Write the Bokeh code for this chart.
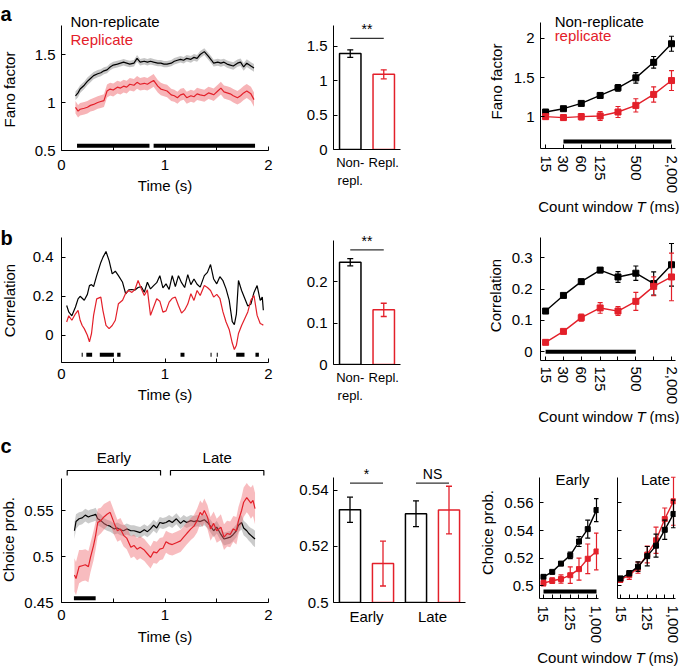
import math
from bokeh.plotting import figure
from bokeh.layouts import row, column
from bokeh.models import FixedTicker
from bokeh.core.properties import value
from bokeh.embed import file_html
from bokeh.resources import INLINE

FONT = "Liberation Sans"
BLACK = "#000000"
RED = "#e3202a"
GREY_BAND = "#a8a8a8"
PINK_BAND = "#f06a70"

# ---------------- data: panel a ----------------
fano_t = [0.135, 0.16, 0.18, 0.22, 0.25, 0.28, 0.31, 0.35, 0.38, 0.41, 0.44, 0.47, 0.50, 0.54, 0.57,
          0.60, 0.63, 0.66, 0.70, 0.73, 0.76, 0.80, 0.83, 0.86, 0.89, 0.93, 0.96, 0.99, 1.02, 1.06,
          1.09, 1.12, 1.15, 1.18, 1.21, 1.25, 1.28, 1.31, 1.34, 1.38, 1.42, 1.45, 1.47, 1.51, 1.54,
          1.57, 1.60, 1.63, 1.66, 1.70, 1.73, 1.76, 1.79, 1.83, 1.86]
fano_nonrep = [1.07, 1.10, 1.14, 1.18, 1.22, 1.25, 1.28, 1.30, 1.31, 1.33, 1.34, 1.37, 1.39, 1.40, 1.41,
               1.42, 1.41, 1.40, 1.41, 1.46, 1.42, 1.43, 1.42, 1.43, 1.42, 1.41, 1.41, 1.40, 1.40, 1.41,
               1.43, 1.44, 1.45, 1.44, 1.46, 1.45, 1.47, 1.46, 1.50, 1.53, 1.48, 1.44, 1.41, 1.42, 1.41,
               1.42, 1.40, 1.39, 1.38, 1.41, 1.42, 1.37, 1.41, 1.38, 1.36]
fano_nonrep_sem = [0.045, 0.045, 0.04, 0.04, 0.04, 0.04, 0.038, 0.038, 0.036, 0.036,
                   0.035, 0.035, 0.035, 0.035, 0.034, 0.034, 0.034, 0.034, 0.034, 0.035,
                   0.034, 0.034, 0.034, 0.033, 0.033, 0.033, 0.033, 0.033, 0.033, 0.033,
                   0.034, 0.034, 0.034, 0.034, 0.034, 0.035, 0.035, 0.035, 0.036, 0.036,
                   0.036, 0.036, 0.036, 0.036, 0.037, 0.037, 0.037, 0.038, 0.038, 0.038,
                   0.039, 0.039, 0.04, 0.04, 0.04]
fano_rep = [0.95, 0.91, 0.93, 0.94, 0.95, 0.97, 0.98, 1.00, 1.01, 1.02, 1.12, 1.14, 1.13, 1.16, 1.15,
            1.17, 1.16, 1.19, 1.18, 1.21, 1.19, 1.20, 1.19, 1.21, 1.23, 1.17, 1.14, 1.13, 1.12, 1.08,
            1.07, 1.05, 1.08, 1.09, 1.05, 1.07, 1.06, 1.09, 1.08, 1.07, 1.10, 1.09, 1.08, 1.12, 1.15,
            1.11, 1.10, 1.09, 1.07, 1.05, 1.07, 1.10, 1.12, 1.09, 1.03]
fano_rep_sem = [0.065, 0.065, 0.065, 0.065, 0.065, 0.065, 0.066, 0.066, 0.066, 0.067,
                0.067, 0.067, 0.067, 0.067, 0.066, 0.066, 0.066, 0.066, 0.066, 0.066,
                0.066, 0.066, 0.066, 0.066, 0.066, 0.065, 0.065, 0.064, 0.064, 0.064,
                0.063, 0.063, 0.062, 0.062, 0.062, 0.062, 0.063, 0.063, 0.063, 0.063,
                0.064, 0.064, 0.065, 0.066, 0.067, 0.068, 0.069, 0.07, 0.07, 0.071,
                0.072, 0.073, 0.074, 0.075, 0.075]
fano_sig_start = [0.15, 0.89]
fano_sig_end = [0.85, 1.87]

bar_x = [1, 2]
bar_labels = ["Non-\nrepl.", "Repl."]
fano_bar = [1.39, 1.09]
fano_bar_err = [0.055, 0.065]

window_ms = [15, 30, 60, 125, 250, 500, 1000, 2000]
window_ticks = [15, 30, 60, 125, 500, 2000]
window_labels = ["15", "30", "60", "125", "500", "2,000"]
fano_T_nonrep = [1.063, 1.105, 1.172, 1.273, 1.37, 1.496, 1.693, 1.929]
fano_T_nonrep_err = [0.017, 0.017, 0.025, 0.03, 0.042, 0.067, 0.074, 0.095]
fano_T_rep = [1.004, 0.992, 1.004, 1.013, 1.063, 1.147, 1.286, 1.462]
fano_T_rep_err = [0.03, 0.035, 0.04, 0.055, 0.07, 0.084, 0.097, 0.126]
fano_T_sig = [30, 2000]

# ---------------- data: panel b ----------------
corr_t = [0.05, 0.07, 0.10, 0.135, 0.16, 0.18, 0.20, 0.22, 0.25, 0.27, 0.29, 0.31, 0.34, 0.38, 0.40,
          0.43, 0.46, 0.49, 0.52, 0.55, 0.59, 0.62, 0.65, 0.68, 0.71, 0.74, 0.77, 0.80, 0.83, 0.86,
          0.89, 0.92, 0.95, 0.98, 1.01, 1.04, 1.07, 1.10, 1.13, 1.16, 1.19, 1.22, 1.25, 1.28, 1.31,
          1.34, 1.38, 1.41, 1.44, 1.47, 1.50, 1.53, 1.56, 1.59, 1.62, 1.65, 1.67, 1.69, 1.71, 1.74,
          1.77, 1.80, 1.83, 1.86, 1.89, 1.92, 1.94, 1.95]
corr_nonrep = [0.153, 0.12, 0.10, 0.145, 0.187, 0.20, 0.19, 0.18, 0.21, 0.255, 0.26, 0.25, 0.306, 0.374, 0.40,
               0.43, 0.383, 0.315, 0.329, 0.306, 0.272, 0.213, 0.233, 0.235, 0.232, 0.245, 0.25, 0.221, 0.272, 0.238,
               0.255, 0.27, 0.306, 0.243, 0.264, 0.235, 0.306, 0.25, 0.306, 0.27, 0.245, 0.311, 0.26, 0.289, 0.262,
               0.247, 0.306, 0.323, 0.363, 0.289, 0.264, 0.301, 0.28, 0.238, 0.18, 0.07, 0.055, 0.11, 0.281, 0.23,
               0.19, 0.15, 0.16, 0.22, 0.255, 0.179, 0.196, 0.128]
corr_rep = [0.068, 0.10, 0.077, 0.11, 0.128, 0.077, 0.05, 0.034, 0.0, -0.034, 0.009, 0.102, 0.187, 0.196, 0.128,
            0.051, 0.034, 0.05, 0.077, 0.162, 0.18, 0.216, 0.23, 0.22, 0.235, 0.281, 0.24, 0.204, 0.233, 0.102,
            0.145, 0.187, 0.175, 0.119, 0.125, 0.17, 0.19, 0.196, 0.153, 0.114, 0.13, 0.16, 0.213, 0.179, 0.23,
            0.204, 0.255, 0.245, 0.23, 0.196, 0.21, 0.19, 0.12, 0.068, 0.03, -0.04, -0.073, -0.051, 0.009, 0.05,
            0.085, 0.12, 0.18, 0.204, 0.102, 0.06, 0.055, 0.051]
corr_sig_start = [0.195, 0.24, 0.37, 0.538, 1.15, 1.44, 1.50, 1.688, 1.874]
corr_sig_end = [0.205, 0.296, 0.506, 0.57, 1.188, 1.45, 1.51, 1.768, 1.907]

corr_bar = [0.2466, 0.1317]
corr_bar_err = [0.0088, 0.016]

corr_T_nonrep = [0.13, 0.18, 0.224, 0.261, 0.239, 0.251, 0.218, 0.278]
corr_T_nonrep_err = [0.004, 0.006, 0.007, 0.008, 0.017, 0.023, 0.037, 0.068]
corr_T_rep = [0.030, 0.065, 0.109, 0.14, 0.13, 0.161, 0.209, 0.239]
corr_T_rep_err = [0.004, 0.006, 0.011, 0.017, 0.014, 0.029, 0.03, 0.076]
corr_T_sig = [15, 500]

# ---------------- data: panel c ----------------
cp_t = [0.125, 0.14, 0.17, 0.20, 0.23, 0.26, 0.28, 0.31, 0.33, 0.35, 0.38, 0.41, 0.44, 0.47, 0.51,
        0.54, 0.57, 0.60, 0.63, 0.67, 0.70, 0.73, 0.76, 0.80, 0.83, 0.86, 0.89, 0.92, 0.95, 0.98,
        1.01, 1.04, 1.07, 1.11, 1.15, 1.18, 1.21, 1.25, 1.28, 1.31, 1.34, 1.36, 1.38, 1.41, 1.44,
        1.47, 1.50, 1.54, 1.57, 1.60, 1.63, 1.66, 1.69, 1.71, 1.74, 1.76, 1.79, 1.81, 1.83, 1.85, 1.87]
cp_nonrep = [0.528, 0.538, 0.541, 0.542, 0.545, 0.543, 0.544, 0.545, 0.546, 0.541, 0.539, 0.536, 0.534, 0.533, 0.530,
             0.531, 0.529, 0.528, 0.530, 0.528, 0.528, 0.527, 0.526, 0.529, 0.527, 0.530, 0.534, 0.531, 0.537, 0.536,
             0.537, 0.539, 0.537, 0.541, 0.536, 0.539, 0.537, 0.539, 0.538, 0.539, 0.538, 0.539, 0.540, 0.537, 0.533,
             0.528, 0.532, 0.524, 0.519, 0.520, 0.521, 0.524, 0.528, 0.534, 0.537, 0.531, 0.528, 0.525, 0.523, 0.521, 0.519]
cp_nonrep_sem = [0.009, 0.008, 0.007, 0.007, 0.007, 0.007, 0.007, 0.007, 0.007, 0.007,
                 0.007, 0.006, 0.006, 0.006, 0.006, 0.006, 0.006, 0.006, 0.006, 0.006,
                 0.006, 0.006, 0.006, 0.006, 0.006, 0.006, 0.006, 0.006, 0.006, 0.006,
                 0.006, 0.006, 0.006, 0.006, 0.006, 0.006, 0.006, 0.006, 0.006, 0.006,
                 0.006, 0.006, 0.006, 0.006, 0.007, 0.007, 0.007, 0.007, 0.007, 0.007,
                 0.007, 0.007, 0.007, 0.007, 0.008, 0.008, 0.008, 0.008, 0.008, 0.009, 0.009]
cp_rep = [0.480, 0.476, 0.489, 0.490, 0.491, 0.489, 0.499, 0.512, 0.523, 0.537, 0.539, 0.543, 0.546, 0.548, 0.536,
          0.528, 0.530, 0.523, 0.520, 0.510, 0.512, 0.508, 0.510, 0.507, 0.503, 0.499, 0.505, 0.504, 0.508, 0.509,
          0.516, 0.514, 0.513, 0.515, 0.517, 0.521, 0.525, 0.530, 0.533, 0.539, 0.548, 0.545, 0.550, 0.543, 0.530,
          0.536, 0.528, 0.532, 0.521, 0.525, 0.524, 0.530, 0.528, 0.539, 0.550, 0.559, 0.564, 0.561, 0.558, 0.561, 0.552]
cp_rep_sem = [0.018, 0.018, 0.018, 0.017, 0.017, 0.017, 0.016, 0.016, 0.015, 0.015,
              0.014, 0.014, 0.013, 0.013, 0.013, 0.012, 0.012, 0.012, 0.012, 0.012,
              0.012, 0.012, 0.012, 0.012, 0.012, 0.012, 0.012, 0.012, 0.012, 0.012,
              0.012, 0.012, 0.012, 0.012, 0.012, 0.012, 0.012, 0.012, 0.012, 0.013,
              0.013, 0.013, 0.013, 0.013, 0.013, 0.013, 0.013, 0.014, 0.014, 0.014,
              0.014, 0.014, 0.015, 0.015, 0.015, 0.016, 0.016, 0.016, 0.017, 0.017, 0.017]
cp_sig_start = [0.12]
cp_sig_end = [0.33]
epochs = ["Early", "Late"]
epoch_start = [0.055, 1.053]
epoch_end = [0.957, 1.955]

cp_bar_x = [1, 2, 3, 4]
cp_bar = [0.5331, 0.5139, 0.5317, 0.5330]
cp_bar_err = [0.0045, 0.008, 0.0046, 0.0085]
cp_bar_colors = [BLACK, RED, BLACK, RED]
cp_bar_groups = [1.5, 3.5]
cp_bar_sig = ["*", "NS"]

cp_window_ms = [15, 30, 60, 125, 250, 500, 1000]
cp_window_ticks = [15, 125, 1000]
cp_window_labels = ["15", "125", "1,000"]
cp_early_nonrep = [0.5064, 0.510, 0.516, 0.522, 0.532, 0.541, 0.5548]
cp_early_nonrep_err = [0.001, 0.001, 0.0015, 0.0024, 0.0036, 0.0065, 0.0083]
cp_early_rep = [0.5019, 0.5036, 0.5048, 0.5076, 0.512, 0.5195, 0.5248]
cp_early_rep_err = [0.002, 0.002, 0.003, 0.006, 0.008, 0.0107, 0.0133]
cp_late_nonrep = [0.5052, 0.509, 0.5138, 0.5214, 0.529, 0.5405, 0.552]
cp_late_nonrep_err = [0.0015, 0.002, 0.0035, 0.007, 0.0083, 0.007, 0.01]
cp_late_rep = [0.5043, 0.5076, 0.513, 0.5226, 0.5329, 0.5483, 0.5612]
cp_late_rep_err = [0.002, 0.003, 0.004, 0.006, 0.0095, 0.008, 0.0174]
cp_early_sig = [15, 1000]


# ---------------- helpers ----------------
def no_align(p):
    try:
        p.frame_align = False
    except Exception:
        pass


def make_fig(w, h, l, r, t, b, xr, yr, xtype="linear"):
    p = figure(width=w, height=h, x_range=xr, y_range=yr, x_axis_type=xtype,
               output_backend="svg", toolbar_location=None,
               min_border_left=l, min_border_right=r, min_border_top=t, min_border_bottom=b)
    no_align(p)
    p.xgrid.visible = False
    p.ygrid.visible = False
    p.outline_line_color = None
    for ax in (p.xaxis[0], p.yaxis[0]):
        ax.axis_line_color = BLACK
        ax.axis_line_width = 1
        ax.major_tick_in = 4
        ax.major_tick_out = 0
        ax.major_tick_line_color = BLACK
        ax.minor_tick_in = 0
        ax.minor_tick_out = 0
        ax.minor_tick_line_color = BLACK
        ax.major_label_text_font = FONT
        ax.major_label_text_font_size = "15px"
        ax.major_label_text_color = BLACK
        ax.axis_label_text_font = FONT
        ax.axis_label_text_font_size = "15px"
        ax.axis_label_text_font_style = "normal"
        ax.axis_label_text_color = BLACK
    return p


def blank_fig(w, h, xr, yr):
    p = figure(width=w, height=h, x_range=xr, y_range=yr, output_backend="svg",
               toolbar_location=None, min_border=0, x_axis_location=None, y_axis_location=None)
    no_align(p)
    p.title = None
    p.xgrid.visible = False
    p.ygrid.visible = False
    p.outline_line_color = None
    return p


def yticks(p, ticks, labels, bounds, standoff=6, label=None, label_standoff=6):
    ax = p.yaxis[0]
    ax.ticker = FixedTicker(ticks=ticks)
    ax.major_label_overrides = {float(t): s for t, s in zip(ticks, labels)}
    ax.bounds = bounds
    ax.major_label_standoff = standoff
    if label is not None:
        ax.axis_label = label
        ax.axis_label_standoff = label_standoff


def time_xaxis(p, standoff, label_standoff):
    ax = p.xaxis[0]
    ax.ticker = FixedTicker(ticks=[0, 1, 2], minor_ticks=[0.5, 1.5])
    ax.major_label_overrides = {0.0: "0", 1.0: "1", 2.0: "2"}
    ax.minor_tick_in = 4
    ax.major_label_standoff = standoff
    ax.axis_label = "Time (s)"
    ax.axis_label_standoff = label_standoff


def log_xaxis(p, ticks, labels, minors, standoff=7):
    ax = p.xaxis[0]
    ax.ticker = FixedTicker(ticks=ticks, minor_ticks=minors)
    ax.major_label_overrides = {float(t): s for t, s in zip(ticks, labels)}
    ax.major_label_orientation = "vertical"
    ax.minor_tick_in = 4
    ax.major_label_standoff = standoff


def cat_xaxis(p, ticks, labels, standoff=5, size="15px"):
    ax = p.xaxis[0]
    ax.ticker = FixedTicker(ticks=ticks)
    ax.major_label_overrides = {float(t): s for t, s in zip(ticks, labels)}
    ax.major_tick_in = 0
    ax.major_label_standoff = standoff
    ax.major_label_text_font_size = size


def band(p, t, m, s, color, alpha):
    lo = [a - b for a, b in zip(m, s)]
    hi = [a + b for a, b in zip(m, s)]
    p.varea(x=t, y1=lo, y2=hi, fill_color=color, fill_alpha=alpha)


def errbars(p, xs, ys, es, color, cap=6, lw=1.3):
    lo = [y - e for y, e in zip(ys, es)]
    hi = [y + e for y, e in zip(ys, es)]
    p.segment(x0=xs, y0=lo, x1=xs, y1=hi, line_color=color, line_width=lw)
    p.scatter(x=list(xs) + list(xs), y=lo + hi, marker="dash", size=cap,
              line_color=color, line_width=lw)


def txt(p, x, y, s, color=BLACK, size="15px", align="left", baseline="middle", style="normal", angle=0.0):
    p.text(x=[x], y=[y], text=[s], text_color=color, text_font=value(FONT), angle=angle,
           text_font_size=size, text_align=align, text_baseline=baseline, text_font_style=style)


def gutter(h, letter, letter_y, ylabel, ylabel_x, ylabel_y):
    g = blank_fig(20, h, (0, 20), (0, h))
    txt(g, 0, letter_y, letter, size="20px", style="bold", baseline="alphabetic")
    txt(g, ylabel_x, ylabel_y, ylabel, align="center", baseline="middle", angle=math.pi / 2)
    return g


def count_window_fig(w, h, x0, x1, y):
    g = blank_fig(w, h, (x0, x1), (0, h))
    txt(g, 632, y, "Count window", align="right")
    txt(g, 636, y, "T", align="left", style="italic")
    txt(g, 649, y, "(ms)", align="left")
    return g


def bars(p, xs, vals, errs, colors, bottom):
    p.vbar(x=xs, width=0.64, bottom=bottom, top=vals, fill_color=None,
           line_color=colors, line_width=1.5)
    for x, v, e, c in zip(xs, vals, errs, colors):
        errbars(p, [x], [v], [e], c)


def window_series(p, xs, ys, es, color, size=6):
    p.line(xs, ys, line_color=color, line_width=1.4)
    errbars(p, xs, ys, es, color, cap=5, lw=1.2)
    p.scatter(xs, ys, marker="square", size=size, fill_color=color, line_color=color)


# ================= Row a =================
gA = gutter(214, "a", 201, "Fano factor", 9, 125)

pA1 = make_fig(270, 214, 41, 22, 14, 64, (0, 2), (0.5, 1.9167))
yticks(pA1, [0.5, 1, 1.5], ["0.5", "1", "1.5"], (0.5, 1.8), standoff=6)
time_xaxis(pA1, 9, 4)
band(pA1, fano_t, fano_nonrep, fano_nonrep_sem, GREY_BAND, 0.65)
band(pA1, fano_t, fano_rep, fano_rep_sem, PINK_BAND, 0.5)
pA1.line(fano_t, fano_nonrep, line_color=BLACK, line_width=1.2)
pA1.line(fano_t, fano_rep, line_color=RED, line_width=1.2)
pA1.segment(x0=fano_sig_start, y0=[0.55] * len(fano_sig_start), x1=fano_sig_end,
            y1=[0.55] * len(fano_sig_end), line_color=BLACK, line_width=4, line_cap="butt")
txt(pA1, 0.087, 1.844, "Non-replicate")
txt(pA1, 0.087, 1.656, "Replicate", color=RED)

pA2 = make_fig(140, 214, 43, 30, 14, 65, (0.5, 2.5), (0, 1.957))
yticks(pA2, [0, 0.5, 1, 1.5], ["0", "0.5", "1", "1.5"], (0, 1.8), standoff=6)
cat_xaxis(pA2, bar_x, bar_labels, size="13px")
bars(pA2, bar_x, fano_bar, fano_bar_err, [BLACK, RED], 0)
pA2.segment(x0=[1], y0=[1.61], x1=[2], y1=[1.61], line_color="#333333", line_width=1.2)
txt(pA2, 1.5, 1.63, "**", size="14px", align="center", baseline="bottom")

pA3 = make_fig(255, 196, 110, 10, 14, 46, (12.3, 2336), (0.6, 2.3), xtype="log")
yticks(pA3, [1, 1.5, 2], ["1", "1.5", "2"], (0.6, 2.2), standoff=6, label="Fano factor", label_standoff=6)
log_xaxis(pA3, window_ticks, window_labels, [250, 1000], standoff=7)
pA3.segment(x0=[fano_T_sig[0]], y0=[0.69], x1=[fano_T_sig[1]], y1=[0.69],
            line_color=BLACK, line_width=4, line_cap="butt")
window_series(pA3, window_ms, fano_T_nonrep, fano_T_nonrep_err, BLACK)
window_series(pA3, window_ms, fano_T_rep, fano_T_rep_err, RED)
txt(pA3, 21.3, 2.2125, "Non-replicate")
txt(pA3, 21.3, 2.0375, "replicate", color=RED)
labA3 = count_window_fig(255, 18, 430, 685, 8)

# ================= Row b =================
gB = gutter(210, "b", 187, "Correlation", 9, 124)

pB1 = make_fig(270, 210, 41, 22, 16, 62, (0, 2), (-0.14, 0.538))
yticks(pB1, [0, 0.2, 0.4], ["0", "0.2", "0.4"], (-0.14, 0.5), standoff=8)
time_xaxis(pB1, 6, 4)
pB1.line(corr_t, corr_nonrep, line_color=BLACK, line_width=1.2)
pB1.line(corr_t, corr_rep, line_color=RED, line_width=1.2)
pB1.segment(x0=corr_sig_start, y0=[-0.1] * len(corr_sig_start), x1=corr_sig_end,
            y1=[-0.1] * len(corr_sig_end), line_color=BLACK, line_width=4, line_cap="butt")

pB2 = make_fig(140, 210, 43, 30, 16, 60, (0.5, 2.5), (0, 0.323))
yticks(pB2, [0, 0.1, 0.2], ["0", "0.1", "0.2"], (0, 0.3), standoff=6)
cat_xaxis(pB2, bar_x, bar_labels, size="13px")
bars(pB2, bar_x, corr_bar, corr_bar_err, [BLACK, RED], 0)
pB2.segment(x0=[1], y0=[0.2763], x1=[2], y1=[0.2763], line_color="#333333", line_width=1.2)
txt(pB2, 1.5, 0.279, "**", size="14px", align="center", baseline="bottom")

pB3 = make_fig(255, 193, 110, 10, 16, 44, (12.3, 2336), (-0.028, 0.3875), xtype="log")
yticks(pB3, [0, 0.1, 0.2, 0.3], ["0", "0.1", "0.2", "0.3"], (-0.028, 0.365), standoff=8,
       label="Correlation", label_standoff=5)
log_xaxis(pB3, window_ticks, window_labels, [250, 1000], standoff=6)
pB3.segment(x0=[corr_T_sig[0]], y0=[0.0], x1=[corr_T_sig[1]], y1=[0.0],
            line_color=BLACK, line_width=4, line_cap="butt")
window_series(pB3, window_ms, corr_T_nonrep, corr_T_nonrep_err, BLACK)
window_series(pB3, window_ms, corr_T_rep, corr_T_rep_err, RED)
labB3 = count_window_fig(255, 17, 430, 685, 8)

# ================= Row c =================
gC = gutter(242, "c", 221, "Choice prob.", 7.5, 127)

pC1 = make_fig(270, 242, 41, 22, 22, 64, (0, 2), (0.45, 0.6196))
yticks(pC1, [0.45, 0.5, 0.55], ["0.45", "0.5", "0.55"], (0.45, 0.585), standoff=8)
time_xaxis(pC1, 7, 5)
band(pC1, cp_t, cp_nonrep, cp_nonrep_sem, GREY_BAND, 0.6)
pC1.line(cp_t, cp_nonrep, line_color=BLACK, line_width=1.2)
band(pC1, cp_t, cp_rep, cp_rep_sem, PINK_BAND, 0.45)
pC1.line(cp_t, cp_rep, line_color=RED, line_width=1.2)
pC1.segment(x0=cp_sig_start, y0=[0.4545], x1=cp_sig_end, y1=[0.4545],
            line_color=BLACK, line_width=4, line_cap="butt")
for name, s, e in zip(epochs, epoch_start, epoch_end):
    pC1.line([s, s, e, e], [0.588, 0.5935, 0.5935, 0.588], line_color=BLACK, line_width=1.2)
    txt(pC1, (s + e) / 2, 0.6076, name, align="center")

pC2 = make_fig(180, 242, 43, 5, 22, 64, (0.5, 4.5), (0.5, 0.5557))
yticks(pC2, [0.5, 0.52, 0.54], ["0.5", "0.52", "0.54"], (0.5, 0.5446), standoff=5)
cat_xaxis(pC2, cp_bar_groups, epochs)
bars(pC2, cp_bar_x, cp_bar, cp_bar_err, cp_bar_colors, 0.5)
for g, s in zip(cp_bar_groups, cp_bar_sig):
    pC2.segment(x0=[g - 0.5], y0=[0.5426], x1=[g + 0.5], y1=[0.5426], line_color="#333333", line_width=1.2)
    txt(pC2, g, 0.5432, s, size="14px", align="center", baseline="bottom")

pC3e = make_fig(140, 222, 69, 12, 42, 46, (10.94, 1172), (0.4907, 0.5864), xtype="log")
yticks(pC3e, [0.5, 0.52, 0.54, 0.56], ["0.5", "0.52", "0.54", "0.56"], (0.4907, 0.5786), standoff=6,
       label="Choice prob.", label_standoff=5)
log_xaxis(pC3e, cp_window_ticks, cp_window_labels, [30, 60, 250, 500], standoff=7)
pC3e.segment(x0=[cp_early_sig[0]], y0=[0.4957], x1=[cp_early_sig[1]], y1=[0.4957],
             line_color=BLACK, line_width=4, line_cap="butt")
window_series(pC3e, cp_window_ms, cp_early_nonrep, cp_early_nonrep_err, BLACK, size=5)
window_series(pC3e, cp_window_ms, cp_early_rep, cp_early_rep_err, RED, size=5)
txt(pC3e, 149, 0.5771, "Early", align="center")

pC3l = make_fig(75, 222, 7, 10, 42, 46, (11.82, 1172), (0.4907, 0.5864), xtype="log")
yticks(pC3l, [0.5, 0.52, 0.54, 0.56], ["", "", "", ""], (0.4907, 0.5786), standoff=0)
pC3l.yaxis.major_label_text_font_size = "0px"
log_xaxis(pC3l, cp_window_ticks, cp_window_labels, [30, 60, 250, 500], standoff=7)
window_series(pC3l, cp_window_ms, cp_late_rep, cp_late_rep_err, RED, size=5)
window_series(pC3l, cp_window_ms, cp_late_nonrep, cp_late_nonrep_err, BLACK, size=5)
txt(pC3l, 240, 0.5771, "Late", align="center")

labC3 = blank_fig(215, 20, (470, 685), (0, 20))
txt(labC3, 631, 9, "Count window", align="right")
txt(labC3, 635, 9, "T", align="left", style="italic")
txt(labC3, 648, 9, "(ms)", align="left")

rowA = row(gA, pA1, pA2, column(pA3, labA3))
rowB = row(gB, pB1, pB2, column(pB3, labB3))
rowC = row(gC, pC1, pC2, column(row(pC3e, pC3l), labC3))
layout = column(rowA, rowB, rowC)

open("out.html", "w").write(file_html(layout, INLINE))
